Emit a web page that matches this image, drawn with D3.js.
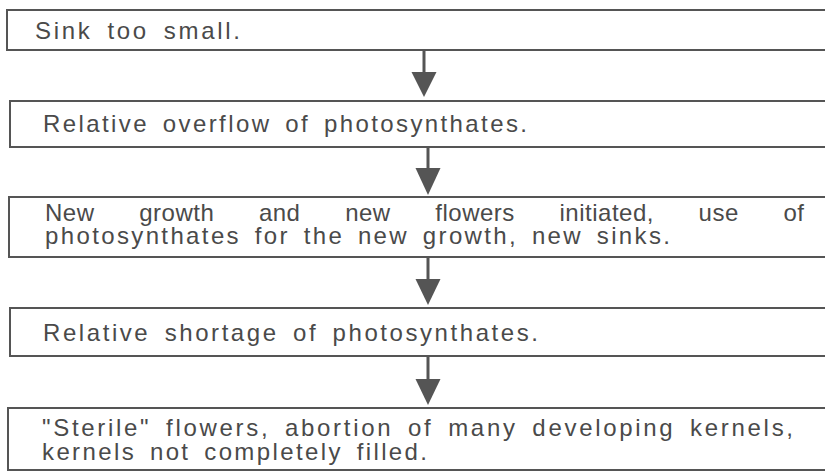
<!DOCTYPE html>
<html>
<head>
<meta charset="utf-8">
<script src="https://cdn.jsdelivr.net/npm/d3@7"></script>
<style>
  html, body { margin: 0; padding: 0; background: #fff; }
  svg { display: block; }
</style>
</head>
<body>
<script>
// flow steps, one entry per box, one string per printed line
var stepLines = [
    ["Sink too small."],
    ["Relative overflow of photosynthates."],
    ["New growth and new flowers initiated, use of",
     "photosynthates for the new growth, new sinks."],
    ["Relative shortage of photosynthates."],
    ["\"Sterile\" flowers, abortion of many developing kernels,",
     "kernels not completely filled."]
];
// which printed lines are set justified (full width)
var justified = [[false], [false], [true, false], [false], [false, false]];

// layout of the scanned figure (pixels)
var width = 825, height = 472;
var boxTop    = [10, 101, 197, 308, 408];
var boxBottom = [50, 147, 257, 356, 470];
var boxLeft   = [7, 10, 9, 10, 8];
var textLeft  = [35, 43, 45, 43, 42];
var textRight = [[240], [527], [804, 670], [538], [793, 427]];
var baselines = [[39], [132], [221, 244], [341], [436, 460]];
var arrowX    = [424, 428, 428, 428];
var headTop   = [72, 168, 279, 379];
var headTip   = [97, 195, 305, 405];

var ink = "#4a4a4a";
var fontSize = 24;

var svg = d3.select("body").append("svg")
    .attr("width", width)
    .attr("height", height);

var y = d3.scaleLinear().domain([0, height]).range([0, height]);

// boxes
svg.selectAll("rect.box")
    .data(stepLines)
    .enter().append("rect")
    .attr("class", "box")
    .attr("x", function(d, i) { return boxLeft[i]; })
    .attr("y", function(d, i) { return y(boxTop[i]); })
    .attr("width", function(d, i) { return width + 20 - boxLeft[i]; })
    .attr("height", function(d, i) { return y(boxBottom[i]) - y(boxTop[i]); })
    .attr("fill", "none")
    .attr("stroke", "#555")
    .attr("stroke-width", 2);

// arrows between boxes
var arrows = svg.selectAll("g.arrow")
    .data(arrowX)
    .enter().append("g")
    .attr("class", "arrow");

arrows.append("line")
    .attr("x1", function(d) { return d; })
    .attr("x2", function(d) { return d; })
    .attr("y1", function(d, i) { return y(boxBottom[i]); })
    .attr("y2", function(d, i) { return y(headTop[i]) + 2; })
    .attr("stroke", "#555")
    .attr("stroke-width", 3);

arrows.append("path")
    .attr("d", function(d, i) {
        var t = y(headTop[i]), b = y(headTip[i]);
        return "M" + (d - 12.5) + "," + t + "L" + (d + 12.5) + "," + t + "L" + d + "," + b + "Z";
    })
    .attr("fill", "#555");

// text lines; extra width goes to letter gaps, with word gaps weighted more
stepLines.forEach(function(lines, i) {
    lines.forEach(function(line, j) {
        var t = svg.append("text")
            .attr("x", textLeft[i])
            .attr("y", y(baselines[i][j]))
            .attr("font-family", "'Liberation Sans', Arial, sans-serif")
            .attr("font-size", fontSize)
            .attr("fill", ink)
            .text(line);
        var natural = t.node().getComputedTextLength();
        var extra = textRight[i][j] - textLeft[i] - natural;
        var spaces = line.split(" ").length - 1;
        if (justified[i][j]) {
            t.attr("letter-spacing", 0.5)
             .attr("word-spacing", (extra - 0.5 * (line.length - 1)) / spaces);
            return;
        }
        var unit = extra / ((line.length - 1) + 2 * spaces);
        t.attr("letter-spacing", unit).attr("word-spacing", 2 * unit);
    });
});
</script>
</body>
</html>
